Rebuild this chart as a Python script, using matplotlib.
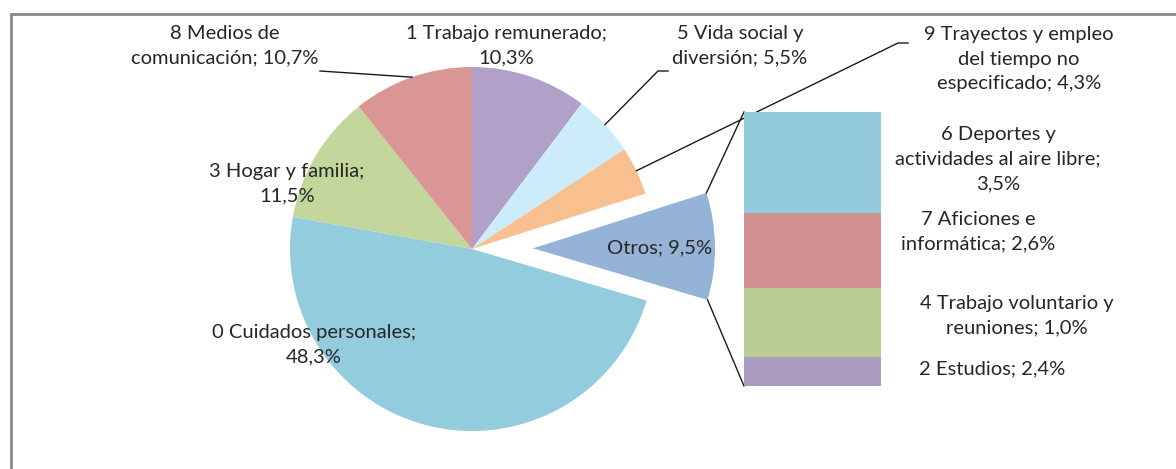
import matplotlib
matplotlib.use("Agg")
import matplotlib.pyplot as plt
from matplotlib.patches import Rectangle
import numpy as np

# ---- data ----
pie_names = ["1 Trabajo remunerado", "5 Vida social y\ndiversión", "9 Trayectos y empleo\ndel tiempo no\nespecificado",
             "Otros", "0 Cuidados personales", "3 Hogar y familia", "8 Medios de\ncomunicación"]
pie_seps = [";\n", "; ", "; ", "; ", ";\n", ";\n", "; "]
pie_values = [10.3, 5.5, 4.3, 9.5, 48.3, 11.5, 10.7]
pie_colors = ["#B1A0C7", "#CCEBFB", "#F9C08F", "#95B3D7", "#93CDDD", "#C3D69B", "#D99694"]

bar_values = [3.5, 2.6, 2.4, 1.0]          # top to bottom
bar_colors = ["#93CBDC", "#D29190", "#BACD96", "#A99BBF"]
bar_label_texts = ["6 Deportes y\nactividades al aire libre;\n3,5%",
                   "7 Aficiones e\ninformática; 2,6%",
                   "4 Trabajo voluntario y\nreuniones; 1,0%",
                   "2 Estudios; 2,4%"]

def fmt(v):
    return f"{v:.1f}%".replace(".", ",")

W, H = 1176, 469
fig = plt.figure(figsize=(W / 100, H / 100), dpi=100)
ax = fig.add_axes([0, 0, 1, 1])

FONT = "Lato"
FS = 14.5
LS = 1.55
TXT = "#262626"

cx, cy, R = 472, H - 249, 182
explode = [0, 0, 0, 61, 0, 0, 0]
wedges, _ = ax.pie(pie_values, colors=pie_colors, startangle=90, counterclock=False,
                   radius=R, center=(cx, cy), explode=explode,
                   wedgeprops=dict(linewidth=0, edgecolor="none"))
ax.set_xlim(0, W)
ax.set_ylim(0, H)
ax.set_aspect("equal")
ax.axis("off")

# frame
ax.add_patch(Rectangle((11, -20), W + 40, (H - 14) + 20, fill=False, edgecolor="#878787", linewidth=2))

# pie labels (pixel positions: x, y-from-top)
label_pos = [(506, 46), (740, 46), (1019, 59), (660, 248), (314, 345), (287, 184), (225, 46)]
for name, sep, v, (lx, ly) in zip(pie_names, pie_seps, pie_values, label_pos):
    ax.text(lx, H - ly, name + sep + fmt(v), ha="center", va="center", fontsize=FS,
            family=FONT, color=TXT, linespacing=LS)

def edge_point(w):
    mid = np.deg2rad((w.theta1 + w.theta2) / 2)
    return w.center[0] + w.r * np.cos(mid), w.center[1] + w.r * np.sin(mid)

# leader lines: (wedge index, list of pixel points from text side)
leaders = {6: [(320, 71)], 1: [(668, 71), (658, 71)], 2: [(908, 43), (898, 43)]}
for i, pts in leaders.items():
    ex, ey = edge_point(wedges[i])
    xs = [p[0] for p in pts] + [ex]
    ys = [H - p[1] for p in pts] + [ey]
    ax.plot(xs, ys, color="#1a1a1a", linewidth=1)

# bar of pie
bx0, bx1, by_top, by_bot = 744, 881, 112, 386
bax = fig.add_axes([bx0 / W, (H - by_bot) / H, (bx1 - bx0) / W, (by_bot - by_top) / H])
total = sum(bar_values)
bottom = total
for v, c in zip(bar_values, bar_colors):
    bottom -= v
    bax.bar(0.5, v, width=1.0, bottom=bottom, color=c, linewidth=0)
bax.set_xlim(0, 1)
bax.set_ylim(0, total)
bax.axis("off")

bar_label_pos = [(998, 159), (978, 232), (1017, 316), (992, 369)]
for t, (lx, ly) in zip(bar_label_texts, bar_label_pos):
    ax.text(lx, H - ly, t, ha="center", va="center", fontsize=FS, family=FONT,
            color=TXT, linespacing=LS)

# connectors from exploded wedge to bar
w = wedges[3]
for ang, by in [(w.theta2, by_top), (w.theta1, by_bot)]:
    a = np.deg2rad(ang)
    px, py = w.center[0] + w.r * np.cos(a), w.center[1] + w.r * np.sin(a)
    ax.plot([px, bx0], [py, H - by], color="#1a1a1a", linewidth=1)

fig.savefig("out.png", dpi=100)
